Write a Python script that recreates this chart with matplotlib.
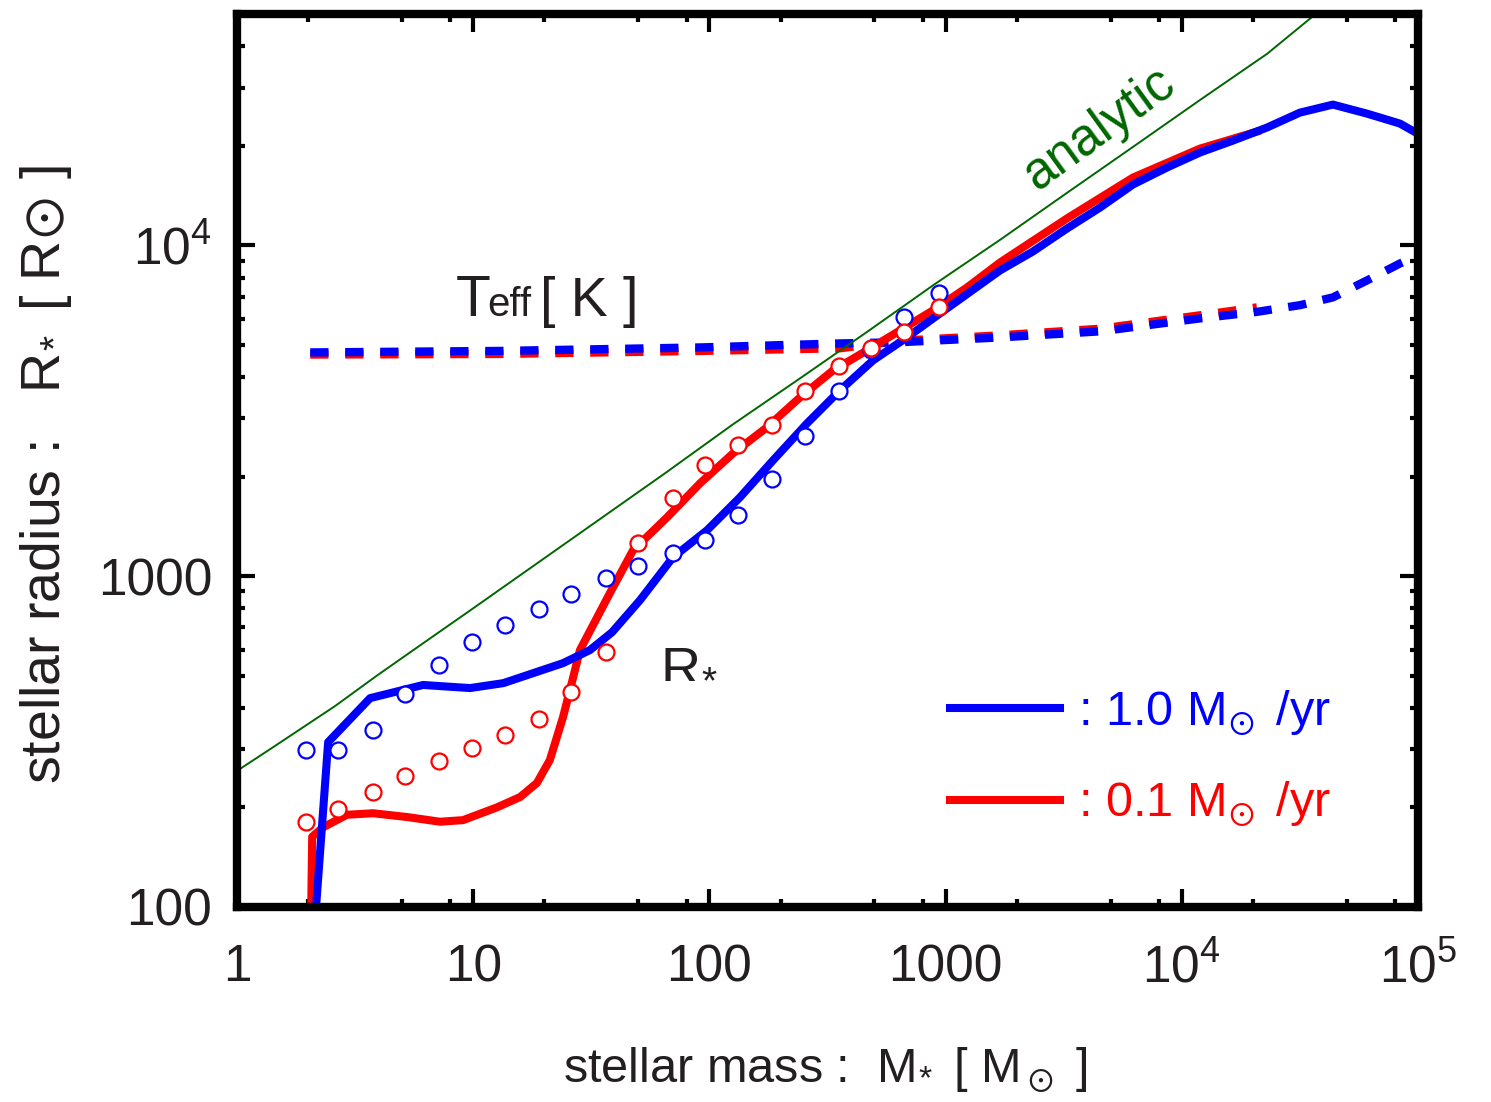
import numpy as np
import matplotlib
matplotlib.use("Agg")
import matplotlib.pyplot as plt
from matplotlib.ticker import FixedLocator, FuncFormatter, NullFormatter

plt.rcParams['font.family'] = ['Liberation Sans', 'DejaVu Sans']
plt.rcParams['mathtext.default'] = 'regular'

# stellar radius, accretion rate 1.0 Msun/yr (solid blue)
m_blue = [2.05, 2.43, 3.66, 6.13, 9.69, 13.4, 24.0, 31.2, 38.7, 50.8, 70.1, 97.7,
          134.8, 186, 259, 357, 493, 686, 947, 1700, 2344, 3264, 4506, 6216,
          8650, 11940, 16480, 22940, 31640, 43650, 60800, 83900, 98000]
r_blue = [60, 315, 428, 469, 459, 475, 546, 598, 677, 846, 1141, 1377,
          1733, 2241, 2899, 3647, 4494, 5272, 6231, 8405, 9592, 11250, 13020, 15290,
          17200, 19100, 20760, 22730, 25220, 26670, 25050, 23370, 21950]

# stellar radius, accretion rate 0.1 Msun/yr (solid red)
m_red = [2.04, 2.08, 2.31, 2.92, 3.77, 5.25, 7.23, 9.05, 12.6, 15.8, 18.6, 21.1,
         24.0, 26.5, 28.3, 37.9, 47.5, 66.2, 91.3, 126, 175, 242, 334, 465, 641,
         884, 1232, 1700, 3264, 6216, 11940, 20800]
r_red = [60, 163, 174, 190, 192, 187, 181, 183, 200, 215, 237, 278,
         375, 495, 598, 889, 1198, 1507, 1910, 2353, 2818, 3474, 4193, 4818, 5536,
         6363, 7465, 8884, 12070, 16050, 19630, 22100]

# effective temperature [K] (dashed)
m_teff_blue = [2.04, 13.0, 91.3, 357, 641, 1700, 4506, 11940, 20800, 31640,
               43600, 60800, 83900, 100000]
t_blue = [4750, 4800, 4918, 5057, 5100, 5272, 5500, 6019, 6300, 6600,
          6966, 7838, 8823, 9328]
m_teff_red = [2.04, 13.0, 91.3, 357, 641, 1700, 4506, 11940, 20800]
t_red = [4680, 4700, 4800, 4890, 5150, 5350, 5600, 6150, 6498]

# one-zone model points (open circles)
m_pts = [1.96, 2.68, 3.77, 5.14, 7.16, 9.89, 13.6, 19.0, 25.9, 36.5,
         49.9, 70.2, 95.7, 132, 184, 254, 354, 483, 667, 938]
r_pts_blue = [298, 298, 342, 440, 538, 632, 711, 795, 882, 986,
              1072, 1174, 1285, 1529, 1964, 2648, 3622, 4818, 6062, 7161]
r_pts_red = [181, 198, 223, 249, 276, 302, 331, 370, 446, 589,
             1258, 1720, 2164, 2488, 2859, 3622, 4310, 4886, 5461, 6498]

# analytic estimate (thin green)
m_ana = [1.0, 1.4, 2.6, 3.9, 5.9, 10.0, 34.0, 65.0, 125, 240, 460, 890,
         1700, 3300, 6300, 12000, 23000, 35500]
r_ana = [258, 302, 405, 500, 615, 800, 1480, 2050, 2870, 3950, 5450, 7600,
         10400, 14500, 20000, 27600, 38000, 49000]

blue = (0, 0, 1)
red = (1, 0, 0)
green = (0, 0.4, 0)
ink = '#231f20'

fig = plt.figure(figsize=(14.91, 11.02), dpi=100)
ax = fig.add_axes([0.159, 0.177, 0.792, 0.810])

dash = (2.2, 2.0)
ax.plot(m_teff_red, t_red, color=red, lw=6, dashes=dash)
ax.plot(m_teff_blue, t_blue, color=blue, lw=6, dashes=dash)

ax.plot(m_red, r_red, color=red, lw=5.8, label=r': 0.1 M$_{\!\odot}$ /yr')
ax.plot(m_blue, r_blue, color=blue, lw=5.8, label=r': 1.0 M$_{\!\odot}$ /yr')

ax.plot(m_pts, r_pts_blue, 'o', ms=11.5, mew=1.6, mec=blue, mfc='white', ls='none')
ax.plot(m_pts, r_pts_red, 'o', ms=11.5, mew=1.6, mec=red, mfc='white', ls='none')

ax.plot(m_ana, r_ana, color=green, lw=1.4)

ax.set_xscale('log')
ax.set_yscale('log')
ax.set_xlim(1, 1e5)
ax.set_ylim(100, 5e4)


def fmt(v, pos):
    e = int(round(np.log10(v)))
    if e >= 4:
        return r'$10^{%d}$' % e
    return '%d' % round(v)


ax.xaxis.set_major_locator(FixedLocator([1, 10, 100, 1e3, 1e4, 1e5]))
ax.yaxis.set_major_locator(FixedLocator([100, 1e3, 1e4]))
ax.xaxis.set_major_formatter(FuncFormatter(fmt))
ax.yaxis.set_major_formatter(FuncFormatter(fmt))
xminor = [k * 10.0 ** d for d in range(0, 5) for k in (2, 5, 8)]
yminor = [k * 10.0 ** d for d in range(2, 5) for k in range(2, 10)]
ax.xaxis.set_minor_locator(FixedLocator(xminor))
ax.yaxis.set_minor_locator(FixedLocator(yminor))
ax.xaxis.set_minor_formatter(NullFormatter())
ax.yaxis.set_minor_formatter(NullFormatter())

ax.tick_params(which='both', direction='in', top=True, right=True, width=3,
               colors='black', labelcolor=ink)
ax.tick_params(which='major', length=13, labelsize=37)
ax.tick_params(which='minor', length=6)
ax.tick_params(axis='x', which='major', pad=26)
ax.tick_params(axis='y', which='major', pad=18)
for s in ax.spines.values():
    s.set_linewidth(6)

ax.set_xlabel(r'stellar mass :  M$_{\!*}$ [ M$_\odot$ ]', fontsize=35, color=ink, va='top')
ax.xaxis.set_label_coords(0.498, -0.155)
ax.set_ylabel(r'stellar radius :   R$_{\!*}$ [ R$\!\odot\!$ ]', fontsize=40, color=ink)
ax.yaxis.set_label_coords(-0.138, 0.484)

ax.text(8.4, 6140, 'T', fontsize=41, color=ink, va='baseline')
ax.annotate('eff', xy=(8.4, 6140), xytext=(23, 0), textcoords='offset points',
            fontsize=29, color=ink, va='baseline')
ax.annotate('[ K ]', xy=(8.4, 6140), xytext=(61, 0), textcoords='offset points',
            fontsize=40, color=ink, va='baseline')
ax.text(61.8, 492, r'R$_{\!*}$', fontsize=40, color=ink, va='baseline')
ax.text(4500, 22540, 'analytic', fontsize=37, color=green, rotation=36,
        rotation_mode='anchor', ha='center', va='center')

handles, labels = ax.get_legend_handles_labels()
leg = ax.legend(handles[::-1], labels[::-1], loc='center left', frameon=False,
                fontsize=35, handlelength=2.25, handletextpad=0.38, labelspacing=0.85,
                borderpad=0, borderaxespad=0, labelcolor='linecolor',
                bbox_to_anchor=(0.604, 0.166))

fig.savefig('out.png', dpi=100)
